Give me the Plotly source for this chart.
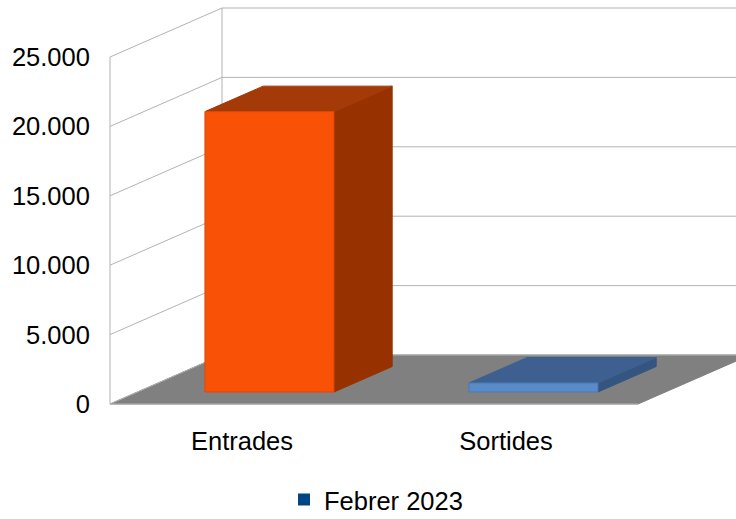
import plotly.graph_objects as go

# ---- data ----
categories = ["Entrades", "Sortides"]
values = [20200, 650]
series_name = "Febrer 2023"
y_ticks = [0, 5000, 10000, 15000, 20000, 25000]

# ---- styles ----
front_colors = ["#F95106", "#5A8AC7"]
top_colors = ["#A33A07", "#3D6090"]
side_colors = ["#973200", "#34557F"]
edge_colors = ["#D94808", "#4C7AB5"]
legend_color = "#004586"
grid_color = "#B3B3B3"
floor_color = "#808080"
FONT = "Liberation Sans, Arial, sans-serif"
FS = 25.5

# ---- geometry (pixel layout of the oblique 3D box) ----
W, H = 736, 519
L, R, T, B = 100, 0, 2, 108
front_left_px = 110
cat_px = 264
y0_px = 404
ytop_px = 57
ymax_val = max(y_ticks)
s = (y0_px - ytop_px) / ymax_val          # px per value unit
Dx = 112 / cat_px                           # depth offset in category units
Dy = 49 / s                                 # depth offset in value units
bar_w = 129 / cat_px
d0, d1 = 0.245, 0.765                        # bar depth span (fraction)

x_lo = -0.5 - (front_left_px - L) / cat_px
x_hi = -0.5 + (W - R - front_left_px) / cat_px
y_lo = -((H - B) - y0_px) / s
y_hi = (y0_px - T) / s
x_left = -0.5
x_right = len(categories) - 0.5

fig = go.Figure()


def poly(xs, ys, fill, line=None, lw=1):
    fig.add_trace(go.Scatter(
        x=xs + [xs[0]], y=ys + [ys[0]], mode="lines", fill="toself",
        fillcolor=fill, line=dict(color=line or fill, width=lw),
        hoverinfo="skip", showlegend=False))


# floor
poly([x_left, x_right, x_right + Dx, x_left + Dx], [0, 0, Dy, Dy], floor_color, floor_color, 1)

# walls grid
gx, gy = [], []
for v in y_ticks:
    gx += [x_left, x_left + Dx, x_hi + 1, None]
    gy += [v, v + Dy, v + Dy, None]
gx += [x_left, x_left, None, x_left + Dx, x_left + Dx, None]
gy += [0, ymax_val, None, Dy, ymax_val + Dy, None]
fig.add_trace(go.Scatter(x=gx, y=gy, mode="lines", line=dict(color=grid_color, width=1),
                         hoverinfo="skip", showlegend=False))
# floor front edge
fig.add_trace(go.Scatter(x=[x_left, x_right], y=[0, 0], mode="lines",
                         line=dict(color=grid_color, width=1), hoverinfo="skip", showlegend=False))

# bars
for i, (c, v) in enumerate(zip(range(len(categories)), values)):
    xl = c - bar_w / 2
    xr = c + bar_w / 2
    # right side
    poly([xr + d0 * Dx, xr + d1 * Dx, xr + d1 * Dx, xr + d0 * Dx],
         [d0 * Dy, d1 * Dy, v + d1 * Dy, v + d0 * Dy], side_colors[i], side_colors[i])
    # top
    poly([xl + d0 * Dx, xr + d0 * Dx, xr + d1 * Dx, xl + d1 * Dx],
         [v + d0 * Dy, v + d0 * Dy, v + d1 * Dy, v + d1 * Dy], top_colors[i], top_colors[i])
    # front
    poly([xl + d0 * Dx, xr + d0 * Dx, xr + d0 * Dx, xl + d0 * Dx],
         [d0 * Dy, d0 * Dy, v + d0 * Dy, v + d0 * Dy], front_colors[i], edge_colors[i])

# legend entry
fig.add_trace(go.Scatter(x=[None], y=[None], mode="markers", name=series_name,
                         marker=dict(symbol="square", size=12, color=legend_color)))

fig.update_layout(
    width=W, height=H,
    margin=dict(l=L, r=R, t=T, b=B, pad=0, autoexpand=False),
    paper_bgcolor="white", plot_bgcolor="white",
    separators=",.",
    font=dict(family=FONT, size=FS, color="#000000"),
    showlegend=True,
    legend=dict(orientation="h", x=(376 - L) / (W - L - R), xanchor="center",
                y=-(500 - (H - B)) / (H - T - B), yanchor="middle",
                font=dict(family=FONT, size=FS), bgcolor="rgba(0,0,0,0)"),
    xaxis=dict(range=[x_lo, x_hi], showgrid=False, zeroline=False, showline=False,
               tickmode="array", tickvals=list(range(len(categories))), ticktext=categories,
               ticks="outside", ticklen=7, tickcolor="rgba(0,0,0,0)", fixedrange=True),
    yaxis=dict(range=[y_lo, y_hi], showgrid=False, zeroline=False, showline=False,
               tickmode="array", tickvals=y_ticks, tickformat=",d",
               ticks="outside", ticklen=4, tickcolor="rgba(0,0,0,0)", fixedrange=True),
)

fig.write_html("out.html")
